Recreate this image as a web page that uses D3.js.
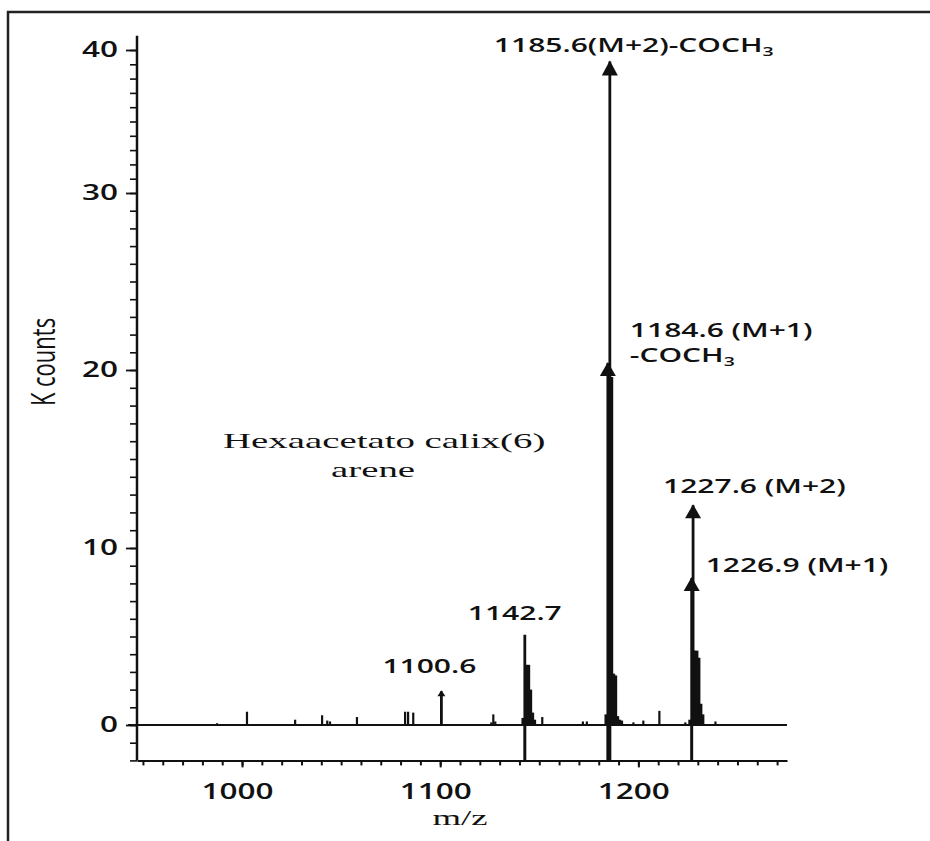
<!DOCTYPE html>
<html>
<head>
<meta charset="utf-8">
<script src="https://cdn.jsdelivr.net/npm/d3@7"></script>
<style>
  body { margin: 0; background: #fff; }
  svg { display: block; }
  .tick line { stroke: #111; }
  .tick text { font-family: "Open Sans", sans-serif; font-weight: 600; font-size: 21px; fill: #111; }
  .ann { font-family: "Open Sans", sans-serif; font-weight: 600; font-size: 20px; fill: #111; }
  .serif { font-family: "Liberation Serif", "Times New Roman", serif; font-size: 21px; fill: #111; }
</style>
</head>
<body>
<div id="chart"></div>
<script>
////// 資料 //////
// 座標軸刻度
const tickMz = [1000, 1100, 1200];
const tickK = [0, 10, 20, 30, 40];
// 小雜訊峰 (m/z, K counts)
const noiseMz = [987.4, 1002.5, 1026.8, 1040.4, 1043.0, 1044.4, 1058.0, 1082.3, 1083.8, 1086.4,
                 1125.8, 1126.8, 1127.8, 1151.5, 1172.0, 1174.0, 1197.5, 1202.5, 1210.6, 1223.7, 1238.9];
const noiseK  = [0.1, 0.75, 0.3, 0.55, 0.25, 0.2, 0.45, 0.75, 0.75, 0.7,
                 0.15, 0.6, 0.2, 0.45, 0.2, 0.2, 0.15, 0.25, 0.8, 0.15, 0.2];
// 同位素峰群
const clusterMz = [1100.6,
                   1141.7, 1142.7, 1143.7, 1144.7, 1145.7, 1146.7, 1147.7,
                   1183.6, 1184.6, 1185.6, 1186.6, 1187.6, 1188.6, 1189.6, 1190.6, 1191.6,
                   1225.9, 1226.9, 1227.6, 1228.1, 1228.6, 1229.6, 1230.6, 1231.6, 1232.6];
const clusterK  = [1.9,
                   0.4, 5.1, 3.4, 3.4, 2.0, 0.7, 0.3,
                   0.6, 20.4, 39.2, 19.6, 2.9, 2.8, 0.5, 0.3, 0.25,
                   0.3, 8.3, 12.4, 4.2, 4.2, 4.2, 3.8, 1.2, 0.6];
// 基線以下延伸的峰
const dropMz = [1142.7, 1184.6, 1185.6, 1226.9];
// 標註的峰
const peakMz = [1185.6, 1184.6, 1227.6, 1226.9, 1142.7, 1100.6];
const peakK  = [39.2, 20.4, 12.4, 8.3, 5.1, 1.9];
const peakText = ['1185.6(M+2)-COCH_3', '1184.6 (M+1)|-COCH_3', '1227.6 (M+2)', '1226.9 (M+1)', '1142.7', '1100.6'];

////// 畫布 //////
const width = 930, height = 841;
const svg = d3.select('#chart').append('svg')
  .attr('width', width)
  .attr('height', height);

// 比例尺 (原圖 y 軸刻度不等距)
const x = d3.scaleLinear().domain([947, 1275]).range([137, 787]);
const y = d3.scaleLinear().domain(tickK).range([725, 548, 370, 193, 50]);
const yMin = -2, yMax = 41;

// 外框
svg.append('path')
  .attr('d', `M8,${height} L8,12 L${width},12`)
  .attr('fill', 'none')
  .attr('stroke', '#222')
  .attr('stroke-width', 2.5);

// x 軸
const xMinor = d3.axisBottom(x).tickValues(d3.range(950, 1275, 10)).tickSize(5).tickSizeOuter(0).tickFormat('');
const xMajor = d3.axisBottom(x).tickValues(tickMz).tickSize(7).tickFormat(d3.format('d'));
svg.append('g')
  .attr('transform', `translate(0,${y(yMin)})`)
  .call(xMinor)
  .call(g => g.select('.domain').attr('stroke', '#111').attr('stroke-width', 2))
  .selectAll('.tick line').attr('stroke-width', 2);
svg.append('g')
  .attr('transform', `translate(0,${y(yMin)})`)
  .call(xMajor)
  .call(g => g.select('.domain').remove())
  .call(g => g.selectAll('.tick line').attr('stroke-width', 2))
  .selectAll('.tick text')
    .attr('y', 0).attr('dy', null)
    .attr('transform', 'translate(-5,39) scale(1.5,1)');

// y 軸
const yMinor = d3.axisLeft(y).tickValues(d3.range(yMin, yMax, 1)).tickSize(7).tickFormat('');
const yMajor = d3.axisLeft(y).tickValues(tickK).tickSize(11).tickFormat(d3.format('d'));
svg.append('g')
  .attr('transform', `translate(${x.range()[0]},0)`)
  .call(yMinor)
  .call(g => g.select('.domain').remove())
  .selectAll('.tick line').attr('stroke-width', 1.6);
svg.append('g')
  .attr('transform', `translate(${x.range()[0]},0)`)
  .call(yMajor)
  .call(g => g.select('.domain').remove())
  .call(g => g.selectAll('.tick line').attr('stroke-width', 1.8))
  .selectAll('.tick text')
    .attr('x', 0)
    .attr('transform', 'translate(-19,0) scale(1.5,1)');
svg.append('line')
  .attr('x1', x.range()[0]).attr('x2', x.range()[0])
  .attr('y1', y(yMax)).attr('y2', y(yMin))
  .attr('stroke', '#111')
  .attr('stroke-width', 2.5);

// 基線
svg.append('line')
  .attr('x1', x.range()[0] - 9).attr('x2', x.range()[1])
  .attr('y1', y(0)).attr('y2', y(0))
  .attr('stroke', '#111')
  .attr('stroke-width', 1.8);

////// 畫峰 //////
const noise = noiseMz.map((m, i) => ({ mz: m, k: noiseK[i] }));
const cluster = clusterMz.map((m, i) => ({ mz: m, k: clusterK[i] }));

svg.selectAll('line.noise')
  .data(noise)
  .enter()
  .append('line')
  .attr('class', 'noise')
  .attr('x1', d => x(d.mz)).attr('x2', d => x(d.mz))
  .attr('y1', y(0)).attr('y2', d => y(d.k))
  .attr('stroke', '#111')
  .attr('stroke-width', 2.2);

svg.selectAll('line.cluster')
  .data(cluster)
  .enter()
  .append('line')
  .attr('class', 'cluster')
  .attr('x1', d => x(d.mz)).attr('x2', d => x(d.mz))
  .attr('y1', y(0)).attr('y2', d => y(d.k))
  .attr('stroke', '#111')
  .attr('stroke-width', 2.8);

svg.selectAll('line.drop')
  .data(dropMz)
  .enter()
  .append('line')
  .attr('class', 'drop')
  .attr('x1', d => x(d)).attr('x2', d => x(d))
  .attr('y1', y(0)).attr('y2', y(yMin))
  .attr('stroke', '#111')
  .attr('stroke-width', 3);

////// 標註 //////
// 每個標註相對峰頂的位置: dx, dy, 箭頭大小
const layout = [
  { dx: -116, dy: -9,  arrow: [8, 14] },
  { dx: 22,   dy: -26, arrow: [8, 13] },
  { dx: -30,  dy: -12, arrow: [8, 13] },
  { dx: 14,   dy: -6,  arrow: [8, 13] },
  { dx: -57,  dy: -15, arrow: null },
  { dx: -59,  dy: -18, arrow: [4, 5] }
];
const peaks = peakMz.map((m, i) => ({ mz: m, k: peakK[i], text: peakText[i], lay: layout[i] }));

svg.selectAll('path.arrow')
  .data(peaks.filter(d => d.lay.arrow))
  .enter()
  .append('path')
  .attr('class', 'arrow')
  .attr('transform', d => `translate(${x(d.mz)},${y(d.k)})`)
  .attr('d', d => `M0,-1 L${-d.lay.arrow[0]},${d.lay.arrow[1]} L${d.lay.arrow[0]},${d.lay.arrow[1]} Z`)
  .attr('fill', '#111');

peaks.forEach(function(d) {
  d.text.split('|').forEach(function(line, j) {
    var parts = line.split('_');
    var t = svg.append('text')
      .attr('class', 'ann')
      .attr('transform', `translate(${x(d.mz) + d.lay.dx},${y(d.k) + d.lay.dy + j * 25}) scale(1.5,1)`);
    t.append('tspan').text(parts[0]);
    if (parts[1]) {
      t.append('tspan').attr('font-size', '13px').attr('dy', 4).text(parts[1]);
    }
  });
});

// 化合物名稱
svg.append('text')
  .attr('class', 'serif')
  .attr('transform', 'translate(223,448) scale(1.85,1)')
  .text('Hexaacetato calix(6)');
svg.append('text')
  .attr('class', 'serif')
  .attr('text-anchor', 'middle')
  .attr('transform', 'translate(373,477) scale(1.85,1)')
  .text('arene');

// 軸標題
svg.append('text')
  .attr('class', 'serif')
  .attr('text-anchor', 'middle')
  .attr('transform', 'translate(460,825) scale(1.75,1)')
  .text('m/z');
svg.append('text')
  .attr('text-anchor', 'middle')
  .attr('font-family', '"Open Sans", sans-serif')
  .attr('font-size', '22px')
  .attr('fill', '#111')
  .attr('transform', 'translate(55,362) scale(1.45,1) rotate(-90)')
  .text('K counts');
</script>
</body>
</html>
